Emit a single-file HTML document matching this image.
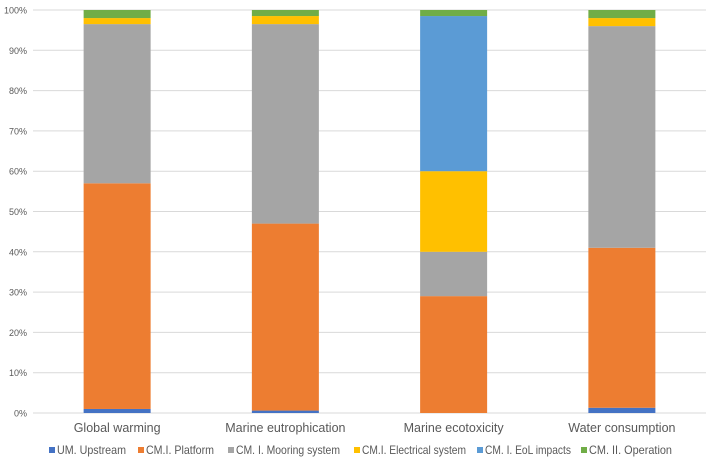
<!DOCTYPE html>
<html><head><meta charset="utf-8"><style>
body{margin:0;background:#fff;font-family:"Liberation Sans",sans-serif;}
svg text{font-family:"Liberation Sans",sans-serif;fill:#595959;}
</style></head><body>
<svg id="chart" width="717" height="466" xmlns="http://www.w3.org/2000/svg">
<g id="grid"></g><g id="bars"></g><g id="labels"></g><g id="legend"></g>
</svg>
<script>
const categories=["Global warming","Marine eutrophication","Marine ecotoxicity","Water consumption"];
const seriesNames=["UM. Upstream","CM.I. Platform","CM. I. Mooring system","CM.I. Electrical system","CM. I. EoL impacts","CM. II. Operation"];
const seriesColors=["#4472C4","#ED7D31","#A5A5A5","#FFC000","#5B9BD5","#70AD47"];
const sUpstream=[1,0.6,0,1.3];
const sPlatform=[56,46.4,29,39.7];
const sMooring=[39.5,49.5,11,55];
const sElectrical=[1.5,2,20,2];
const sEoL=[0,0,38.5,0];
const sOperation=[2,1.5,1.5,2];
const tickLabels=["0%","10%","20%","30%","40%","50%","60%","70%","80%","90%","100%"];
const series=[sUpstream,sPlatform,sMooring,sElectrical,sEoL,sOperation];
const NS="http://www.w3.org/2000/svg";
const L=33,R=706,T=10,B=413;
const y=v=>B-(v/100)*(B-T);
const bw=(R-L)/categories.length;
const xc=i=>L+bw*(i+0.5);
function mk(tag,attrs,parent){const e=document.createElementNS(NS,tag);for(const k in attrs)e.setAttribute(k,attrs[k]);parent.appendChild(e);return e;}
const grid=document.getElementById('grid'),bars=document.getElementById('bars'),labels=document.getElementById('labels'),legend=document.getElementById('legend');
tickLabels.forEach((t,i)=>{
  const v=i*10;
  const ln=mk('line',{x1:L,x2:R,y1:y(v),y2:y(v),stroke:'#D9D9D9','stroke-width':1},grid);
  
  
  const tx=mk('text',{x:27,y:y(v)+3.5,'text-anchor':'end','font-size':9},grid);
  tx.textContent=t;
  
  
});
categories.forEach((c,i)=>{
  let acc=0;
  series.forEach((s,j)=>{
    const v=s[i];
    if(v>0){
      const r=mk('rect',{x:xc(i)-33.5,width:67,y:y(acc+v),height:y(acc)-y(acc+v),fill:seriesColors[j]},bars);
      
      
    }
    acc+=v;
  });
  const t=mk('text',{x:xc(i),y:432,'text-anchor':'middle','font-size':12.5},labels);
  t.textContent=c;
  
  
});
const lx=[49,138,228,354,477,581];
const lw=[69,68,104,104,86,83];
seriesNames.forEach((n,j)=>{
  const g=mk('g',{},legend);
  
  
  mk('rect',{x:lx[j],y:447,width:6,height:6,fill:seriesColors[j]},g);
  const t=mk('text',{x:lx[j]+8,y:454,'font-size':12,textLength:lw[j],lengthAdjust:'spacingAndGlyphs'},g);
  t.textContent=n;
});
</script>
</body></html>
